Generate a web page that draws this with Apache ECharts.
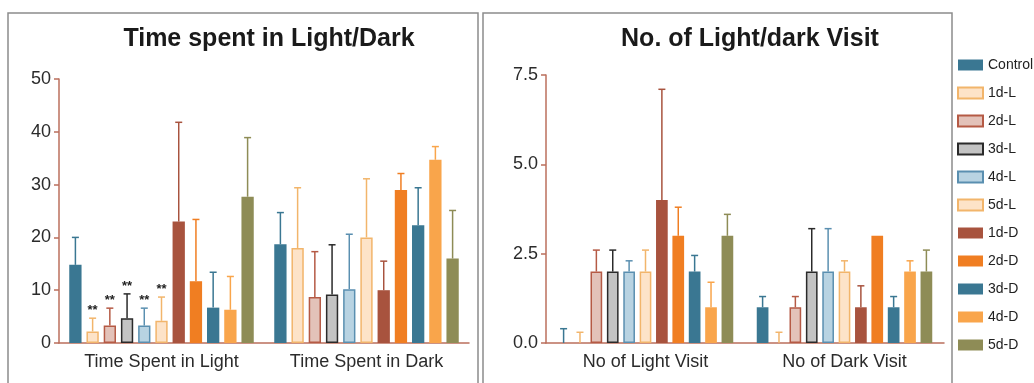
<!DOCTYPE html>
<html>
<head>
<meta charset="utf-8">
<script src="https://cdn.jsdelivr.net/npm/echarts@6/dist/echarts.min.js"></script>
<style>
  html, body { margin: 0; padding: 0; background: #ffffff; }
  #chart { width: 1034px; height: 383px; }
</style>
</head>
<body>
<div id="chart"></div>
<script>
// Treatment groups, in legend / bar order
const groups = ['Control', '1d-L', '2d-L', '3d-L', '4d-L', '5d-L', '1d-D', '2d-D', '3d-D', '4d-D', '5d-D'];

// Panel 1: time spent (mean and SD per group, [Light, Dark])
const timeCategories = ['Time Spent in Light', 'Time Spent in Dark'];
const timeMean = [
  [14.8, 18.7], [2.2, 18.0], [3.3, 8.7], [4.7, 9.2], [3.3, 10.2], [4.2, 20.0],
  [23.0, 10.0], [11.7, 29.0], [6.7, 22.3], [6.3, 34.7], [27.7, 16.0]
];
const timeSD = [
  [5.2, 6.0], [2.5, 11.4], [3.3, 8.6], [4.6, 9.4], [3.3, 10.4], [4.5, 11.1],
  [18.8, 5.5], [11.7, 3.1], [6.7, 7.1], [6.3, 2.5], [11.2, 9.1]
];
// Significance marks vs. control
const timeSig = [
  ['', ''], ['**', ''], ['**', ''], ['**', ''], ['**', ''], ['**', ''],
  ['', ''], ['', ''], ['', ''], ['', ''], ['', '']
];
const timeTicks = [0, 10, 20, 30, 40, 50];

// Panel 2: number of visits (mean and SD per group, [Light, Dark])
const visitCategories = ['No of Light Visit', 'No of Dark Visit'];
const visitMean = [
  [0, 1], [0, 0], [2, 1], [2, 2], [2, 2], [2, 2],
  [4, 1], [3, 3], [2, 1], [1, 2], [3, 2]
];
const visitSD = [
  [0.4, 0.3], [0.3, 0.3], [0.6, 0.3], [0.6, 1.2], [0.3, 1.2], [0.6, 0.3],
  [3.1, 0.6], [0.8, 0], [0.45, 0.3], [0.7, 0.3], [0.6, 0.6]
];
const visitTicks = [0, 2.5, 5, 7.5];

// Bar fill / outline per group
const palette = [
  { fill: '#3a7792', line: '#3a7792', bw: 0 },
  { fill: '#fde3c8', line: '#f2b56b', bw: 1.5 },
  { fill: '#e3c2b9', line: '#b55a45', bw: 1.5 },
  { fill: '#c3c3c3', line: '#2a2a2a', bw: 1.5 },
  { fill: '#b8d3e2', line: '#5a8fb0', bw: 1.5 },
  { fill: '#fde3c8', line: '#f2b56b', bw: 1.5 },
  { fill: '#a8533e', line: '#a8533e', bw: 0 },
  { fill: '#f07e22', line: '#f07e22', bw: 0 },
  { fill: '#3a7792', line: '#3a7792', bw: 0 },
  { fill: '#f9a54b', line: '#f9a54b', bw: 0 },
  { fill: '#8e8c56', line: '#8e8c56', bw: 0 }
];

const FONT = '"Liberation Sans", Arial, sans-serif';
const AXIS_COLOR = '#bb6f5c';
const TEXT_COLOR = '#2b2b2b';
const BAR_GAP = 0.4;

const panels = [
  { cats: timeCategories, mean: timeMean, sd: timeSD, sig: timeSig, ticks: timeTicks,
    barWidth: 12.3, fmt: v => String(v) },
  { cats: visitCategories, mean: visitMean, sd: visitSD, sig: null, ticks: visitTicks,
    barWidth: 11.7, fmt: v => v.toFixed(1) }
];

const series = [];
panels.forEach((p, pi) => {
  const n = groups.length;
  const pitch = p.barWidth * (1 + BAR_GAP);
  groups.forEach((g, i) => {
    const st = palette[i];
    series.push({
      type: 'bar',
      name: g,
      xAxisIndex: pi,
      yAxisIndex: pi,
      barWidth: p.barWidth,
      barGap: (BAR_GAP * 100) + '%',
      data: p.mean[i].map(v => v === 0 ? { value: 0, itemStyle: { borderWidth: 0 } } : v),
      itemStyle: { color: st.fill, borderColor: st.line, borderWidth: st.bw },
      emphasis: { disabled: true },
      z: 2
    });
    // Upper error bar (+SD) and significance mark for this group
    series.push({
      type: 'custom',
      xAxisIndex: pi,
      yAxisIndex: pi,
      z: 3,
      silent: true,
      data: p.cats.map((c, k) => [k, p.mean[i][k], p.sd[i][k]]),
      renderItem: (params, api) => {
        const k = api.value(0), m = api.value(1), s = api.value(2);
        const base = api.coord([k, m]);
        const top = api.coord([k, m + s]);
        const cx = base[0] + (i - (n - 1) / 2) * pitch;
        const children = [];
        if (s > 0) {
          children.push({ type: 'line', shape: { x1: cx, y1: base[1], x2: cx, y2: top[1] },
            style: { stroke: st.line, lineWidth: 1.5 } });
          children.push({ type: 'line', shape: { x1: cx - 3.5, y1: top[1], x2: cx + 3.5, y2: top[1] },
            style: { stroke: st.line, lineWidth: 1.5 } });
        }
        const mark = p.sig ? p.sig[i][params.dataIndex] : '';
        if (mark) {
          children.push({ type: 'text', style: { text: mark, x: cx, y: top[1] - 1,
            align: 'center', verticalAlign: 'bottom', font: 'bold 13px ' + FONT, fill: '#222' } });
        }
        return { type: 'group', children };
      }
    });
  });
});

const grids = [
  { left: 59, top: 79, width: 410, height: 264 },
  { left: 546, top: 75, width: 398, height: 268 }
];

const option = {
  animation: false,
  backgroundColor: '#ffffff',
  title: [
    { text: 'Time spent in Light/Dark', left: 264, top: 22, textAlign: 'center',
      textStyle: { fontFamily: FONT, fontSize: 25, fontWeight: 'bold', color: '#1a1a1a' } },
    { text: 'No. of Light/dark Visit', left: 745, top: 22, textAlign: 'center',
      textStyle: { fontFamily: FONT, fontSize: 25, fontWeight: 'bold', color: '#1a1a1a' } }
  ],
  legend: {
    data: groups,
    orient: 'vertical',
    left: 957,
    top: 58,
    padding: 0,
    itemWidth: 25,
    itemHeight: 11,
    itemGap: 14,
    icon: 'rect',
    selectedMode: false,
    textStyle: { fontFamily: FONT, fontSize: 14, color: '#222' }
  },
  grid: grids,
  xAxis: panels.map((p, pi) => ({
    type: 'category',
    gridIndex: pi,
    data: p.cats,
    axisLine: { lineStyle: { color: AXIS_COLOR, width: 1.5 } },
    axisTick: { show: false },
    axisLabel: { fontFamily: FONT, fontSize: 18, color: TEXT_COLOR, margin: 10 }
  })),
  yAxis: panels.map((p, pi) => ({
    type: 'value',
    gridIndex: pi,
    min: p.ticks[0],
    max: p.ticks[p.ticks.length - 1],
    interval: p.ticks[1] - p.ticks[0],
    axisLine: { show: true, lineStyle: { color: AXIS_COLOR, width: 1.5 } },
    axisTick: { show: true, length: 5, lineStyle: { color: AXIS_COLOR, width: 1.5 } },
    splitLine: { show: false },
    axisLabel: { fontFamily: FONT, fontSize: 18, color: TEXT_COLOR, margin: 8, formatter: p.fmt }
  })),
  graphic: [
    { type: 'rect', silent: true, shape: { x: 8, y: 13, width: 470, height: 390 },
      style: { fill: 'none', stroke: '#8c8c8c', lineWidth: 1.5 } },
    { type: 'rect', silent: true, shape: { x: 483, y: 13, width: 469, height: 390 },
      style: { fill: 'none', stroke: '#8c8c8c', lineWidth: 1.5 } }
  ],
  series
};

const chart = echarts.init(document.getElementById('chart'), null, { renderer: 'canvas' });
chart.setOption(option);
</script>
</body>
</html>
